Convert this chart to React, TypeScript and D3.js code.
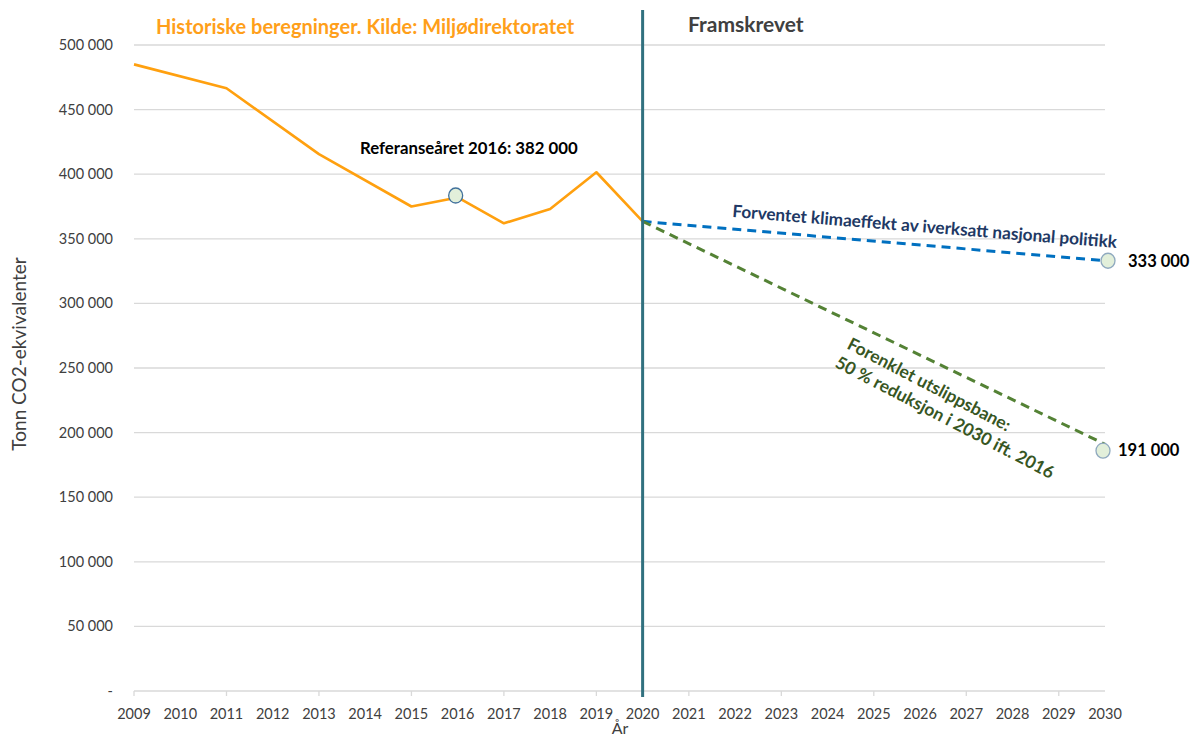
import React from "react";
import * as d3 from "d3";

const yearTicks = d3.range(2009, 2031);
const yTickValues = [0, 50000, 100000, 150000, 200000, 250000, 300000, 350000, 400000, 450000, 500000];

const historicalYears = [2009, 2011, 2013, 2015, 2016, 2017, 2018, 2019, 2020];
const historicalValues = [485000, 466500, 415500, 375000, 382000, 362000, 373000, 401500, 363500];

const projectionYears = [2020, 2030];
const policyValues = [363500, 333000];
const pathValues = [363500, 191000];

const markerYears = [2016, 2030, 2030];
const markerValues = [383500, 333000, 186000];

const W = 1195;
const H = 738;
const FONT = "Lato, 'Open Sans', sans-serif";

export default function App() {
  const x = d3.scaleLinear().domain([2009, 2030]).range([134, 1105]);
  const y = d3.scaleLinear().domain([0, 500000]).range([691, 45]);

  const line = d3
    .line<[number, number]>()
    .x((d) => x(d[0]))
    .y((d) => y(d[1]));

  const hist = line(historicalYears.map((yr, i) => [yr, historicalValues[i]] as [number, number]));
  const policy = line(projectionYears.map((yr, i) => [yr, policyValues[i]] as [number, number]));
  const path = line(projectionYears.map((yr, i) => [yr, pathValues[i]] as [number, number]));

  const fmt = (v: number) => (v === 0 ? "-" : d3.format(",")(v).replace(/,/g, " "));

  return (
    <svg
      width={W}
      height={H}
      style={{ position: "absolute", left: 0, top: 0, background: "#fff" }}
      fontFamily={FONT}
    >
      <rect x={0} y={0} width={W} height={H} fill="#fff" />
      {/* gridlines */}
      {yTickValues.map((v) => (
        <line key={v} x1={x(2009)} x2={x(2030)} y1={y(v)} y2={y(v)} stroke="#d9d9d9" strokeWidth={1.3} />
      ))}
      {/* y tick labels */}
      {yTickValues.map((v) => (
        <text key={"t" + v} x={113} y={y(v)} dy="0.35em" textAnchor="end" fontSize={14.5} fill="#404040">
          {fmt(v)}
        </text>
      ))}
      {/* x tick marks every 2 years */}
      {yearTicks
        .filter((yr) => (yr - 2009) % 2 === 0)
        .map((yr) => (
          <line key={"m" + yr} x1={x(yr)} x2={x(yr)} y1={y(0)} y2={y(0) + 5} stroke="#d9d9d9" strokeWidth={1.3} />
        ))}
      {/* x labels */}
      {yearTicks.map((yr) => (
        <text key={"x" + yr} x={x(yr)} y={719} textAnchor="middle" fontSize={14.5} fill="#404040">
          {yr}
        </text>
      ))}
      <text x={620} y={734} textAnchor="middle" fontSize={16} fill="#404040">
        År
      </text>
      <text
        transform={`translate(26,354) rotate(-90)`}
        textAnchor="middle"
        fontSize={19}
        fill="#404040"
      >
        Tonn CO2-ekvivalenter
      </text>

      {/* historical line */}
      <path d={hist || ""} fill="none" stroke="#ffa00f" strokeWidth={2.6} strokeLinejoin="round" />
      {/* projections */}
      <path d={policy || ""} fill="none" stroke="#0070c0" strokeWidth={3} strokeDasharray="9,6" />
      <path d={path || ""} fill="none" stroke="#548235" strokeWidth={3} strokeDasharray="9,6" />

      {/* vertical divider */}
      <line x1={x(2020)} x2={x(2020)} y1={10} y2={697} stroke="#31717f" strokeWidth={3} />

      {/* markers */}
      {markerYears.map((yr, i) => (
        <ellipse
          key={"k" + i}
          cx={x(yr) + (i === 1 ? 3 : -2)}
          cy={y(markerValues[i])}
          rx={7}
          ry={7.5}
          fill="#e2efda"
          stroke={i === 0 ? "#41719c" : "#8fa9bf"}
          strokeWidth={1.3}
        />
      ))}

      {/* titles */}
      <text x={156} y={34} fontSize={20} fontWeight="bold" fill="#ff9f1a">
        Historiske beregninger. Kilde: Miljødirektoratet
      </text>
      <text x={688} y={32} fontSize={21} fontWeight="bold" fill="#404040">
        Framskrevet
      </text>
      <text x={360} y={154} fontSize={16.8} fontWeight="bold" fill="#000">
        Referanseåret 2016: 382 000
      </text>

      {/* policy label */}
      <text
        transform={`translate(732,217) rotate(4.6)`}
        fontSize={17.2}
        fontWeight="bold"
        fill="#203864"
      >
        Forventet klimaeffekt av iverksatt nasjonal politikk
      </text>
      <text x={1128} y={y(333000)} dy="0.35em" fontSize={16.5} fontWeight="bold" fill="#000">
        333 000
      </text>

      {/* path label */}
      <g transform={`translate(846,348) rotate(27.5)`}>
        <text x={0} y={0} fontSize={17.5} fontWeight="bold" fill="#375623">
          Forenklet utslippsbane:
        </text>
        <text x={-2} y={22} fontSize={17.5} fontWeight="bold" fill="#375623">
          50 % reduksjon i 2030 ift. 2016
        </text>
      </g>
      <text x={1118} y={y(186000)} dy="0.35em" fontSize={16.5} fontWeight="bold" fill="#000">
        191 000
      </text>
    </svg>
  );
}
